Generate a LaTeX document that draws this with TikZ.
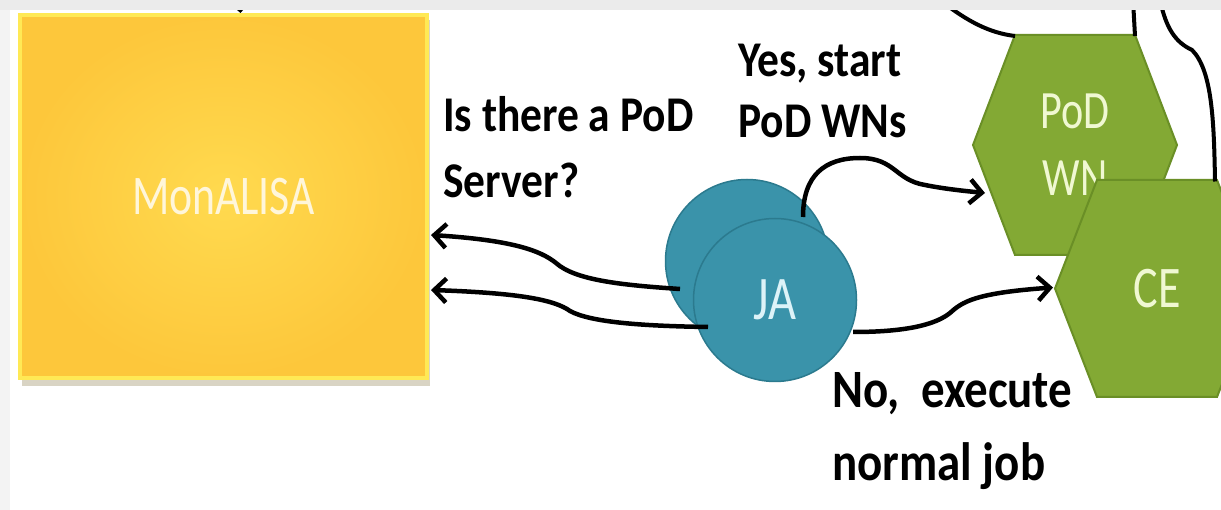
\documentclass[tikz,border=0pt]{standalone}
\usepackage{fontspec}
\usetikzlibrary{arrows.meta,calc}
\newfontfamily\nodefont[FakeStretch=0.78]{Carlito}
\newfontfamily\labelfont[FakeStretch=0.87]{Carlito}
\definecolor{moninner}{HTML}{FFDA4F}
\definecolor{monouter}{HTML}{FDC73B}
\definecolor{monborder}{HTML}{FFE955}
\definecolor{monshadow}{HTML}{D9D4C4}
\definecolor{monText}{HTML}{FFF6DA}
\definecolor{jafill}{HTML}{3A93AA}
\definecolor{jaedge}{HTML}{2B7A8E}
\definecolor{jaText}{HTML}{DDF3F8}
\definecolor{hexfill}{HTML}{83A934}
\definecolor{hexedge}{HTML}{6A8F26}
\definecolor{hexText}{HTML}{F0F8D2}
\definecolor{bandtop}{HTML}{EBEBEB}
\definecolor{bandleft}{HTML}{F3F3F3}
\begin{document}
\begin{tikzpicture}[x=1pt,y=-1pt,
  monbox/.style={rectangle, inner sep=0, minimum width=407pt, minimum height=363pt,
    inner color=moninner, outer color=monouter, draw=monborder, line width=4pt,
    text=monText, font=\nodefont\fontsize{56}{56}\selectfont},
  jacirc/.style={circle, inner sep=0, minimum size=163pt, fill=jafill, draw=jaedge,
    line width=1.5pt, text=jaText, font=\nodefont\fontsize{62}{62}\selectfont},
  hexshape/.style={fill=hexfill, draw=hexedge, line width=2pt, line join=miter},
  hexlabel/.style={inner sep=0, align=center, text=hexText},
  lbl/.style={inner sep=0, anchor=base west, text=black},
  conn/.style={line width=4.5pt, -{Straight Barb[length=12pt,width=24pt]}},
  frag/.style={line width=4pt}]
\useasboundingbox (0,0) rectangle (1221,510);
\fill[white] (0,0) rectangle (1221,510);

% MonALISA
\fill[monshadow] (22,20) rectangle (430,386);
\node[monbox] (mon) at (223.5,196.5) {MonALISA};

% JA circles
\node[jacirc] (jaback) at (747,261) {};
\node[jacirc] (ja) at (775,300) {JA};

% PoD WN hexagon
\coordinate (podc) at (1075,145);
\filldraw[hexshape] ($(podc)+(-102,0)$) -- ($(podc)+(-60,-110)$) -- ($(podc)+(60,-110)$)
  -- ($(podc)+(102,0)$) -- ($(podc)+(60,110)$) -- ($(podc)+(-60,110)$) -- cycle;
\node[hexlabel, font=\nodefont\fontsize{54}{67}\selectfont] (pod) at (podc) {PoD\\WN};

% CE hexagon
\coordinate (cec) at (1157,288.5);
\filldraw[hexshape] ($(cec)+(-102,0)$) -- ($(cec)+(-60,-108.5)$) -- ($(cec)+(60,-108.5)$)
  -- ($(cec)+(102,0)$) -- ($(cec)+(60,108.5)$) -- ($(cec)+(-60,108.5)$) -- cycle;
\node[hexlabel, font=\nodefont\fontsize{59}{59}\selectfont] (ce) at (cec) {CE};

% labels
\node[lbl, font=\labelfont\bfseries\fontsize{50}{50}\selectfont] (q1) at (443,132) {Is there a PoD};
\node[lbl, font=\labelfont\bfseries\fontsize{50}{50}\selectfont] (q2) at (443,198) {Server?};
\node[lbl, font=\labelfont\bfseries\fontsize{50}{50}\selectfont] (y1) at (738,77) {Yes, start};
\node[lbl, font=\labelfont\bfseries\fontsize{50}{50}\selectfont] (y2) at (738,138) {PoD WNs};
\node[lbl, font=\labelfont\bfseries\fontsize{54}{54}\selectfont] (n1) at (832,408) {No,\ \ execute};
\node[lbl, font=\labelfont\bfseries\fontsize{54}{54}\selectfont] (n2) at (832,480) {normal job};

% connectors JA -> MonALISA
\draw[conn] ($(jaback.center)+(-67,28)$) .. controls (620,285) and (575,280) .. (556,263)
  .. controls (540,250) and (510,240) .. ($(mon.east)+(2,38.5)$);
\draw[conn] ($(ja.center)+(-67,27)$) .. controls (640,326) and (590,322) .. (570,311)
  .. controls (555,300) and (520,293) .. ($(mon.east)+(2,93.5)$);

% Yes: JA -> PoD WN
\draw[conn] ($(ja.center)+(28,-83)$) .. controls (803,175) and (825,158) .. (860,158)
  .. controls (895,158) and (895,180) .. (925,185)
  .. controls (945,189) and (965,191) .. ($(podc)+(-90,48)$);

% No: JA -> CE
\draw[conn] ($(ja.center)+(78,32)$) .. controls (905,332) and (935,325) .. (950,313)
  .. controls (962,302) and (975,293) .. ($(cec)+(-104,-1)$);

% fragments of connectors leaving the frame
\coordinate (topA) at (940,0);
\coordinate (topB) at (1133,0);
\coordinate (topC) at (1160,0);
\coordinate (topM) at (238,-20);
\draw[frag] ($(podc)+(-60,-109)$) .. controls (990,33) and (968,22) .. (topA);
\draw[frag] ($(podc)+(60,-109)$) -- (topB);
\draw[frag] ($(cec)+(58,-107)$) .. controls (1214,120) and (1212,70) .. (1192,50)
  .. controls (1175,42) and (1166,28) .. (topC);
\draw[conn] (topM) -- ($(mon.north)+(17,0)$);

% frame bands
\fill[bandtop] (0,0) rectangle (1221,10);
\fill[bandleft] (0,10) rectangle (10,510);
\end{tikzpicture}
\end{document}
